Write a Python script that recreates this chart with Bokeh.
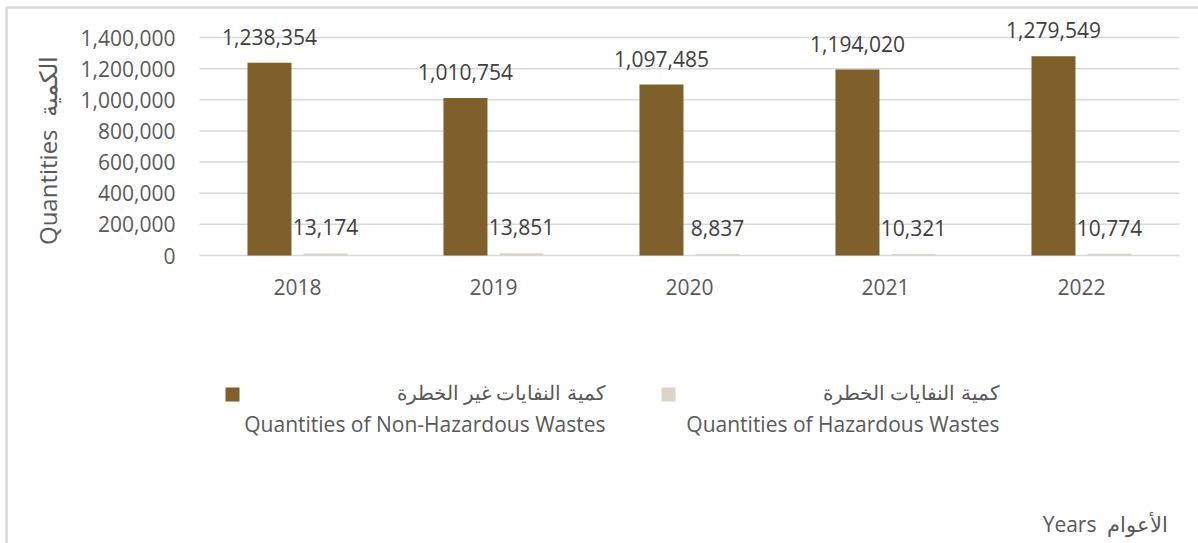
import math
from bokeh.plotting import figure
from bokeh.models import ColumnDataSource, Range1d
from bokeh.core.properties import value
from bokeh.transform import dodge
from bokeh.embed import file_html
from bokeh.resources import INLINE

# ---- data ----
years = ["2018", "2019", "2020", "2021", "2022"]
non_hazardous = [1238354, 1010754, 1097485, 1194020, 1279549]
hazardous = [13174, 13851, 8837, 10321, 10774]
y_ticks = [0, 200000, 400000, 600000, 800000, 1000000, 1200000, 1400000]

series_ar = ["كمية النفايات غير الخطرة", "كمية النفايات الخطرة"]
series_en = ["Quantities of Non-Hazardous Wastes", "Quantities of Hazardous Wastes"]
y_title = "Quantities\u00a0\u00a0الكمية"
x_title = "Years\u00a0\u00a0الأعوام"

# ---- styles / layout (pixels) ----
DARK = "#7F5F2A"
LIGHT = "#DDD4C8"
GRID = "#D9D9D9"
TICK_C = "#595959"
LBL_C = "#404040"
FONT = value("Open Sans")

W, H = 1198, 543
F_LEFT, F_RIGHT, F_TOP, F_BOTTOM = 199, 1179, 37, 255
Y_MAX = 1400000

n = len(years)
band = (F_RIGHT - F_LEFT) / n
first_center = F_LEFT + band / 2
k = Y_MAX / (F_BOTTOM - F_TOP)  # value units per pixel

p = figure(width=W, height=H, output_backend="svg", toolbar_location=None,
           x_range=Range1d(0, W), y_range=Range1d(H, 0),
           min_border=0, min_border_left=0, min_border_right=0,
           min_border_top=0, min_border_bottom=0,
           x_axis_type=None, y_axis_type=None)
p.outline_line_color = None
p.grid.visible = False
p.background_fill_color = "white"
p.border_fill_color = "white"

p.extra_x_ranges = {"cat": Range1d((0 - first_center) / band, (W - first_center) / band)}
p.extra_y_ranges = {"val": Range1d(-(H - F_BOTTOM) * k, F_BOTTOM * k)}

idx = list(range(n))
src = ColumnDataSource(dict(
    idx=idx,
    year=years,
    non=non_hazardous,
    haz=hazardous,
    non_lbl=[f"{v:,}" for v in non_hazardous],
    haz_lbl=[f"{v:,}" for v in hazardous],
    zero=[0] * n,
))
tsrc = ColumnDataSource(dict(
    t=y_ticks,
    lbl=[f"{v:,}" for v in y_ticks],
    x0=[-0.5] * len(y_ticks),
    x1=[n - 0.5] * len(y_ticks),
))

# gridlines
p.segment(x0="x0", x1="x1", y0="t", y1="t", source=tsrc, line_color=GRID,
          line_width=1.5, x_range_name="cat", y_range_name="val")

off = 0.143
bw = 0.2245
p.vbar(x=dodge("idx", -off), top="non", width=bw, source=src,
       fill_color=DARK, line_color=None, x_range_name="cat", y_range_name="val")
p.vbar(x=dodge("idx", off), top="haz", width=bw, source=src,
       fill_color=LIGHT, line_color=None, x_range_name="cat", y_range_name="val")

# value labels
for col, lbl, dx in (("non", "non_lbl", -off), ("haz", "haz_lbl", off)):
    p.text(x=dodge("idx", dx), y=col, text=lbl, source=src, y_offset=-26,
           text_align="center", text_baseline="middle", text_font=FONT,
           text_font_size="21px", text_color=LBL_C,
           x_range_name="cat", y_range_name="val")

# y tick labels
p.text(x="x0", y="t", text="lbl", source=tsrc, x_offset=-24,
       text_align="right", text_baseline="middle", text_font=FONT,
       text_font_size="21px", text_color=TICK_C,
       x_range_name="cat", y_range_name="val")

# x tick labels
p.text(x="idx", y="zero", text="year", source=src, y_offset=31,
       text_align="center", text_baseline="middle", text_font=FONT,
       text_font_size="21px", text_color=TICK_C,
       x_range_name="cat", y_range_name="val")

# axis titles
p.text(x=[47], y=[150], text=[y_title], angle=math.pi / 2,
       text_align="center", text_baseline="middle", text_font=FONT,
       text_font_size="24px", text_color=TICK_C)
p.text(x=[1105], y=[523], text=[x_title],
       text_align="center", text_baseline="middle", text_font=FONT,
       text_font_size="21px", text_color=TICK_C)

# legend
legend_sq_x = [232, 668]
legend_txt_right = [605, 999]
p.rect(x=legend_sq_x, y=[394, 394], width=14, height=14,
       fill_color=[DARK, LIGHT], line_color=None)
p.text(x=legend_txt_right, y=[392, 392], text=series_ar,
       text_align="right", text_baseline="middle", text_font=FONT,
       text_font_size="20px", text_color=TICK_C)
p.text(x=legend_txt_right, y=[423, 423], text=series_en,
       text_align="right", text_baseline="middle", text_font=FONT,
       text_font_size="21px", text_color=TICK_C)

# outer frame (left and top edges)
p.segment(x0=[6, 6], y0=[7, 7], x1=[6, W], y1=[H, 7], line_color=GRID, line_width=2.5)

open("out.html", "w").write(file_html(p, INLINE))
